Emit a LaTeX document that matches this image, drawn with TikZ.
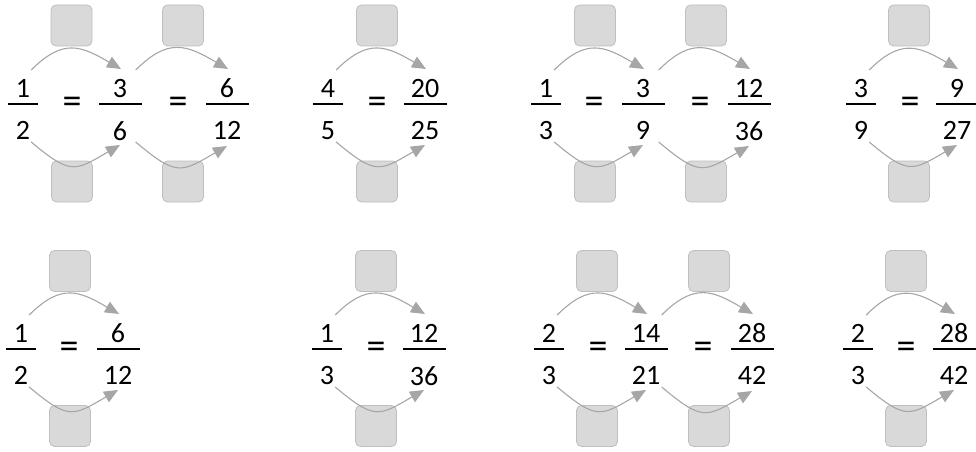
\documentclass[tikz,border=0pt]{standalone}
\usepackage{fontspec}
\setmainfont{Carlito}
\usetikzlibrary{calc,positioning,arrows.meta}
\definecolor{boxgray}{HTML}{D9D9D9}
\definecolor{boxedge}{HTML}{BFBFBF}
\definecolor{arcgray}{HTML}{A6A6A6}
\tikzset{
  bar/.style={fill=black, inner sep=0pt, minimum height=2.4pt},
  num/.style={font=\fontsize{28}{32}\selectfont, inner sep=0pt},
  eq/.style={font=\fontsize{38}{38}\selectfont, inner sep=0pt},
  blank/.style={draw=boxedge, fill=boxgray, rounded corners=5pt, minimum size=41pt, inner sep=0pt, line width=0.8pt},
  over/.style={draw=arcgray, line width=1.1pt, -{Triangle[length=14pt,width=12pt]}, out=45, in=150, looseness=1.3},
  under/.style={draw=arcgray, line width=1.1pt, -{Triangle[length=14pt,width=12pt]}, out=-40, in=-150, looseness=1.5}
}

\begin{document}
\begin{tikzpicture}[x=1pt,y=1pt]
				\useasboundingbox (0,0) rectangle (976,451);
				% first row
				\node[bar, minimum width=30pt] (A1) at (23,347) {};
				\node[num, above=5pt of A1] (A1n) {1};
				\node[num, below=16pt of A1] (A1d) {2};
				\node[eq] at (72,345.5) {=};
				\node[bar, minimum width=43pt] (A2) at (120,347) {};
				\node[num, above=5pt of A2] (A2n) {3};
				\node[num, below=16pt of A2] (A2d) {6};
				\node[eq] at (178,345.5) {=};
				\node[bar, minimum width=43pt] (A3) at (227,347) {};
				\node[num, above=5pt of A3] (A3n) {6};
				\node[num, below=16pt of A3] (A3d) {12};

				\node[bar, minimum width=30pt] (B1) at (328,347) {};
				\node[num, above=5pt of B1] (B1n) {4};
				\node[num, below=16pt of B1] (B1d) {5};
				\node[eq] at (377,345.5) {=};
				\node[bar, minimum width=43pt] (B2) at (425,347) {};
				\node[num, above=5pt of B2] (B2n) {20};
				\node[num, below=16pt of B2] (B2d) {25};

				\node[bar, minimum width=30pt] (C1) at (546,347) {};
				\node[num, above=5pt of C1] (C1n) {1};
				\node[num, below=16pt of C1] (C1d) {3};
				\node[eq] at (594,345.5) {=};
				\node[bar, minimum width=43pt] (C2) at (643,347) {};
				\node[num, above=5pt of C2] (C2n) {3};
				\node[num, below=16pt of C2] (C2d) {9};
				\node[eq] at (700,345.5) {=};
				\node[bar, minimum width=43pt] (C3) at (749,347) {};
				\node[num, above=5pt of C3] (C3n) {12};
				\node[num, below=16pt of C3] (C3d) {36};

				\node[bar, minimum width=30pt] (D1) at (861,347) {};
				\node[num, above=5pt of D1] (D1n) {3};
				\node[num, below=16pt of D1] (D1d) {9};
				\node[eq] at (910,345.5) {=};
				\node[bar, minimum width=43pt] (D2) at (957,347) {};
				\node[num, above=5pt of D2] (D2n) {9};
				\node[num, below=16pt of D2] (D2d) {27};

				% second row
				\node[bar, minimum width=30pt] (E1) at (21,102) {};
				\node[num, above=5pt of E1] (E1n) {1};
				\node[num, below=16pt of E1] (E1d) {2};
				\node[eq] at (69,100.5) {=};
				\node[bar, minimum width=43pt] (E2) at (118,102) {};
				\node[num, above=5pt of E2] (E2n) {6};
				\node[num, below=16pt of E2] (E2d) {12};

				\node[bar, minimum width=30pt] (F1) at (327,102) {};
				\node[num, above=5pt of F1] (F1n) {1};
				\node[num, below=16pt of F1] (F1d) {3};
				\node[eq] at (376,100.5) {=};
				\node[bar, minimum width=43pt] (F2) at (424,102) {};
				\node[num, above=5pt of F2] (F2n) {12};
				\node[num, below=16pt of F2] (F2d) {36};

				\node[bar, minimum width=30pt] (G1) at (549,102) {};
				\node[num, above=5pt of G1] (G1n) {2};
				\node[num, below=16pt of G1] (G1d) {3};
				\node[eq] at (598,100.5) {=};
				\node[bar, minimum width=43pt] (G2) at (646,102) {};
				\node[num, above=5pt of G2] (G2n) {14};
				\node[num, below=16pt of G2] (G2d) {21};
				\node[eq] at (703,100.5) {=};
				\node[bar, minimum width=43pt] (G3) at (752,102) {};
				\node[num, above=5pt of G3] (G3n) {28};
				\node[num, below=16pt of G3] (G3d) {42};

				\node[bar, minimum width=30pt] (H1) at (858,102) {};
				\node[num, above=5pt of H1] (H1n) {2};
				\node[num, below=16pt of H1] (H1d) {3};
				\node[eq] at (906,100.5) {=};
				\node[bar, minimum width=43pt] (H2) at (954,102) {};
				\node[num, above=5pt of H2] (H2n) {28};
				\node[num, below=16pt of H2] (H2d) {42};

				% empty boxes
				\node[blank] (Au1) at (71.5,425.5) {};
				\node[blank] (Ad1) at (72,269.5) {};
				\node[blank] (Au2) at (183,425.5) {};
				\node[blank] (Ad2) at (183,269.5) {};
				\node[blank] (Bu) at (377,425.5) {};
				\node[blank] (Bd) at (377,269.5) {};
				\node[blank] (Cu1) at (595,425.5) {};
				\node[blank] (Cd1) at (595,269.5) {};
				\node[blank] (Cu2) at (706,425.5) {};
				\node[blank] (Cd2) at (706,269.5) {};
				\node[blank] (Du) at (909,425.5) {};
				\node[blank] (Dd) at (909,269.5) {};
				\node[blank] (Eu) at (70,180) {};
				\node[blank] (Ed) at (70,25) {};
				\node[blank] (Fu) at (376,180) {};
				\node[blank] (Fd) at (376,25) {};
				\node[blank] (Gu1) at (597,180) {};
				\node[blank] (Gd1) at (597,25) {};
				\node[blank] (Gu2) at (709,180) {};
				\node[blank] (Gd2) at (709,25) {};
				\node[blank] (Hu) at (906,180) {};
				\node[blank] (Hd) at (906,25) {};

				% arcs
				\draw[over] ($(A1.east)+(-7,34)$) to ($(A2)+(1,35)$);
				\draw[under] ($(A1.east)+(-7,-38)$) to ($(A2)+(0,-41)$);
				\draw[over] ($(A2.east)+(-6,34)$) to ($(A3)+(1,35)$);
				\draw[under] ($(A2.east)+(-6,-38)$) to ($(A3)+(0,-42)$);
				\draw[over] ($(B1.east)+(-7,34)$) to ($(B2)+(1,35)$);
				\draw[under] ($(B1.east)+(-7,-38)$) to ($(B2)+(0,-41)$);
				\draw[over] ($(C1.east)+(-7,34)$) to ($(C2)+(1,35)$);
				\draw[under] ($(C1.east)+(-7,-38)$) to ($(C2)+(0,-41)$);
				\draw[over] ($(C2.east)+(-6,34)$) to ($(C3)+(1,35)$);
				\draw[under] ($(C2.east)+(-6,-38)$) to ($(C3)+(0,-42)$);
				\draw[over] ($(D1.east)+(-7,34)$) to ($(D2)+(1,35)$);
				\draw[under] ($(D1.east)+(-7,-38)$) to ($(D2)+(0,-41)$);
				\draw[over] ($(E1.east)+(-7,34)$) to ($(E2)+(1,35)$);
				\draw[under] ($(E1.east)+(-7,-38)$) to ($(E2)+(0,-41)$);
				\draw[over] ($(F1.east)+(-7,34)$) to ($(F2)+(1,35)$);
				\draw[under] ($(F1.east)+(-7,-38)$) to ($(F2)+(0,-41)$);
				\draw[over] ($(G1.east)+(-7,34)$) to ($(G2)+(1,35)$);
				\draw[under] ($(G1.east)+(-7,-38)$) to ($(G2)+(0,-41)$);
				\draw[over] ($(G2.east)+(-6,34)$) to ($(G3)+(1,35)$);
				\draw[under] ($(G2.east)+(-6,-38)$) to ($(G3)+(0,-42)$);
				\draw[over] ($(H1.east)+(-7,34)$) to ($(H2)+(1,35)$);
				\draw[under] ($(H1.east)+(-7,-38)$) to ($(H2)+(0,-41)$);
			\end{tikzpicture}
\end{document}
